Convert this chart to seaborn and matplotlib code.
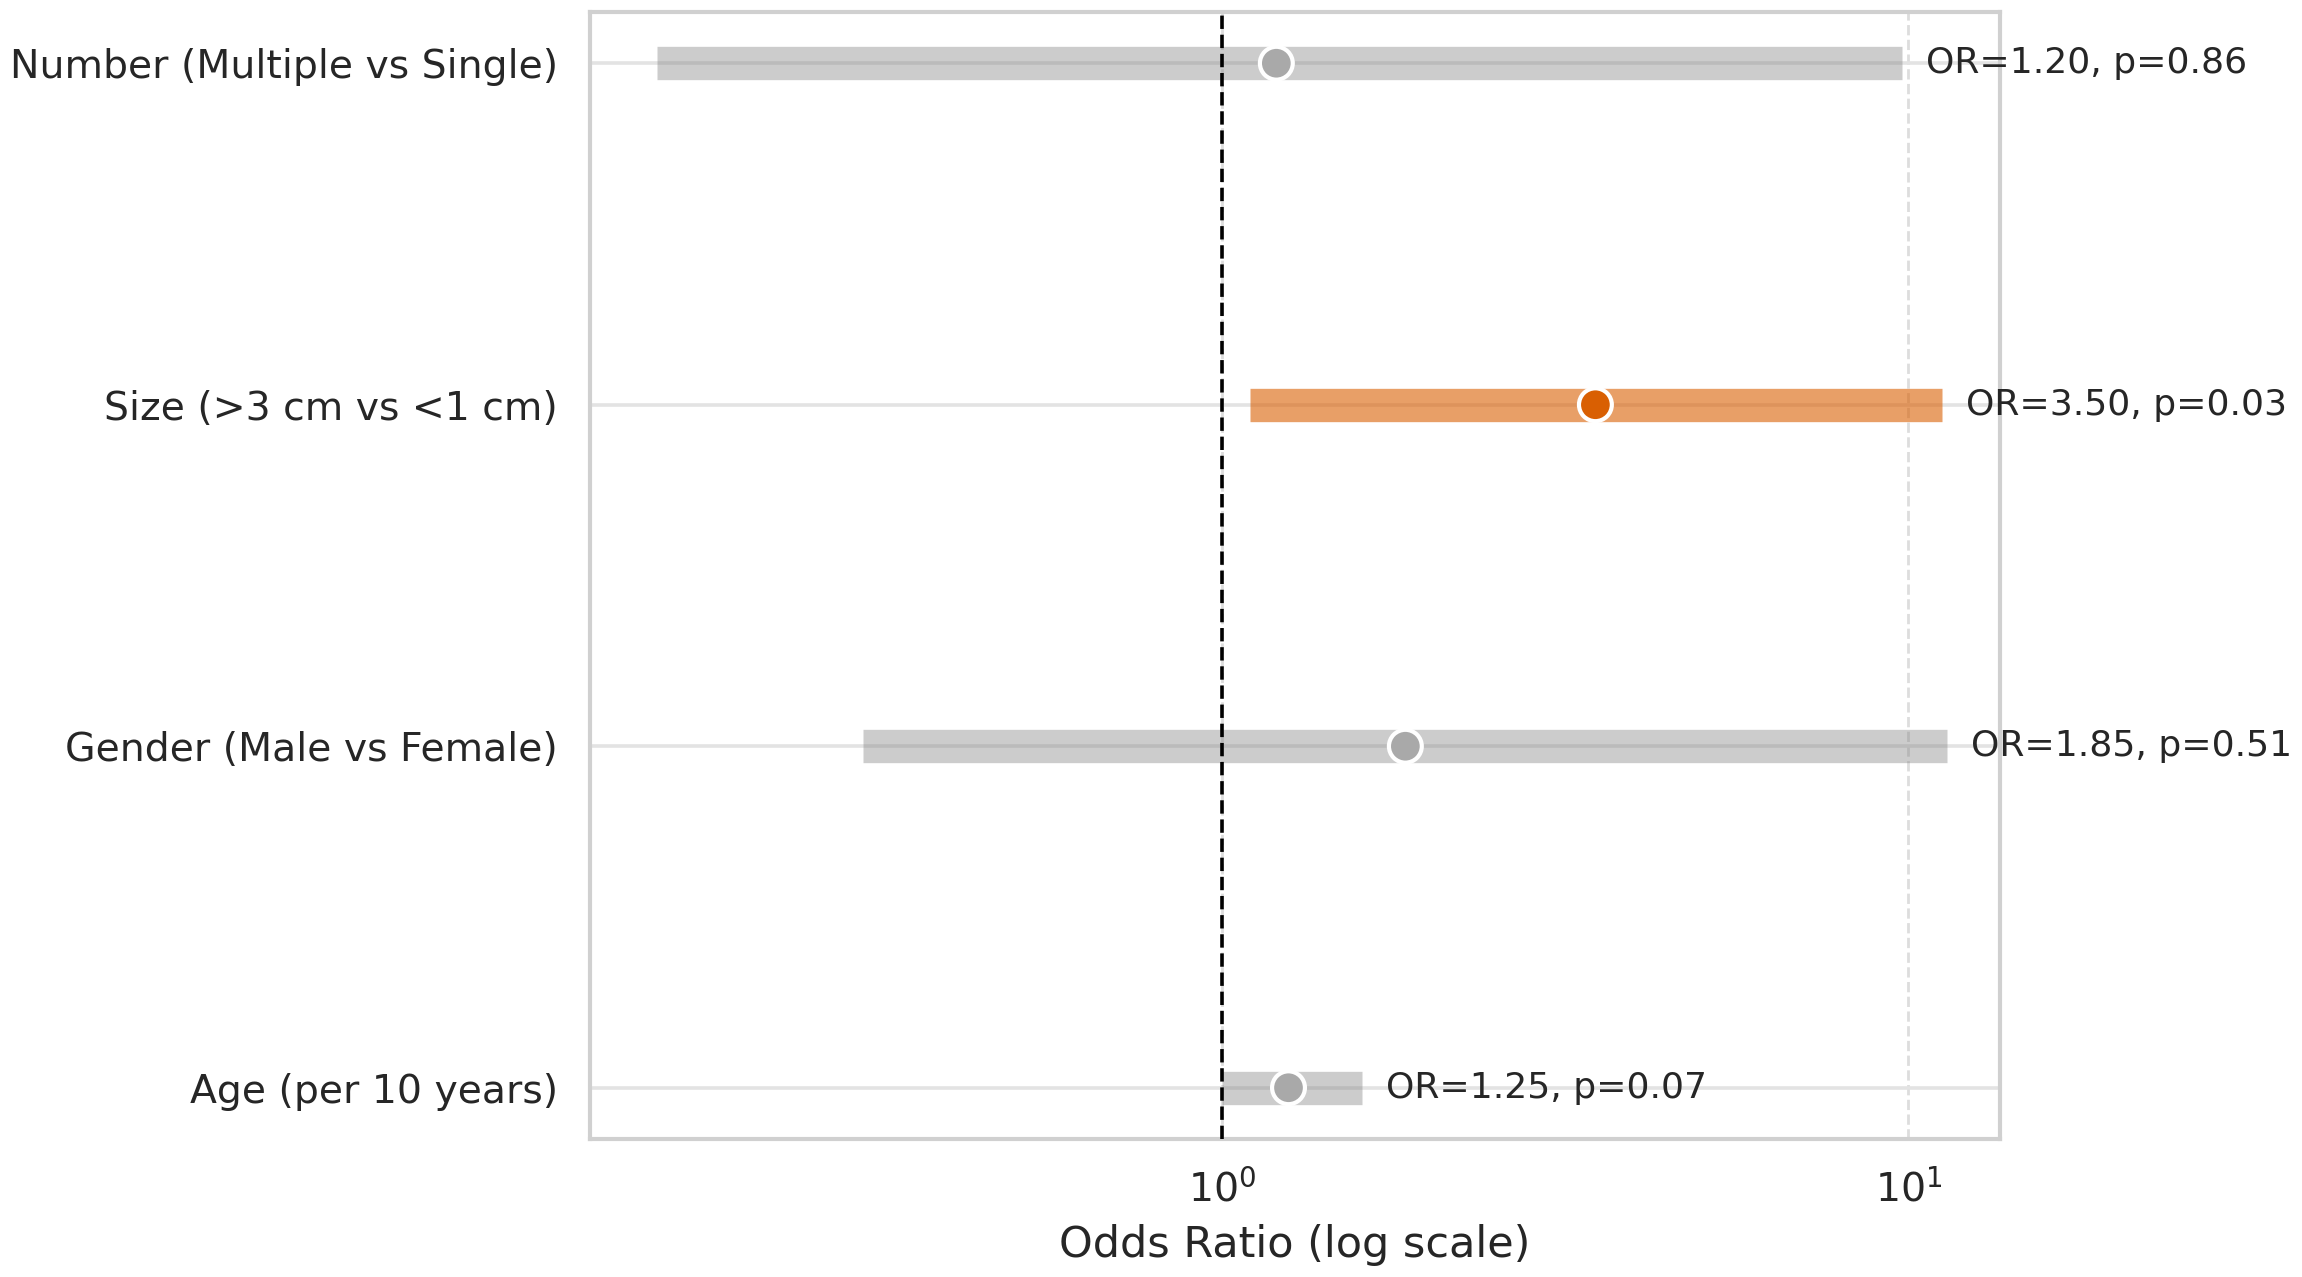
import numpy as np
import matplotlib
matplotlib.use("Agg")
import matplotlib.pyplot as plt
import matplotlib.colors as mcolors
import seaborn as sns

# Values (top row first)
factors = ["Number (Multiple vs Single)", "Size (>3 cm vs <1 cm)",
           "Gender (Male vs Female)", "Age (per 10 years)"]
odds_ratio = [1.20, 3.50, 1.85, 1.25]
ci_low = [0.15, 1.10, 0.30, 1.00]
ci_high = [9.8, 11.2, 11.4, 1.6]
p_values = [0.86, 0.03, 0.51, 0.07]

sns.set_theme(style="whitegrid")

# significant factors highlighted in orange
sig_color = "#d95f02"
ns_color = "#a9a9a9"
is_sig = [p < 0.05 for p in p_values]
dot_colors = [sig_color if s else ns_color for s in is_sig]
bar_colors = [mcolors.to_rgba(sig_color, 0.6) if s else mcolors.to_rgba("gray", 0.4) for s in is_sig]

fig, ax = plt.subplots(figsize=(11.51, 6.385), dpi=200)
ax.set_position([0.2563, 0.1081, 0.6125, 0.8825])

ypos = np.arange(len(factors))

# horizontal CI bars
ax.hlines(ypos, ci_low, ci_high, colors=bar_colors, linewidth=12, zorder=2)

# point estimates
sns.scatterplot(x=odds_ratio, y=ypos, hue=factors, palette=dot_colors,
                s=140, edgecolor="white", linewidth=1.5, legend=False, zorder=3, ax=ax)

# reference line at OR = 1
ax.axvline(1, color="black", linestyle="--", linewidth=1.3, zorder=4)

for y, orv, hi, p in zip(ypos, odds_ratio, ci_high, p_values):
    ax.annotate(f"OR={orv:.2f}, p={p:.2f}", xy=(hi, y), xytext=(8.5, 0),
                textcoords="offset points", va="center", ha="left", fontsize=13)

ax.set_xscale("log")
ax.set_xlim(0.12, 13.6)
ax.set_ylim(3.15, -0.15)
ax.set_yticks(ypos)
ax.set_yticklabels(factors, fontsize=14.2)
ax.tick_params(axis="x", labelsize=14.2, pad=5)
ax.tick_params(axis="y", pad=5.5)
ax.set_xlabel("Odds Ratio (log scale)", fontsize=15.5, labelpad=5)
ax.set_ylabel("")

ax.grid(axis="x", linestyle="--", color="#dddddd", linewidth=1)
ax.grid(axis="y", linestyle="-", color="#e3e3e3", linewidth=1.3)
for spine in ax.spines.values():
    spine.set_color("#d0d0d0")
    spine.set_linewidth(1.5)

fig.savefig("out.png", dpi=200)
